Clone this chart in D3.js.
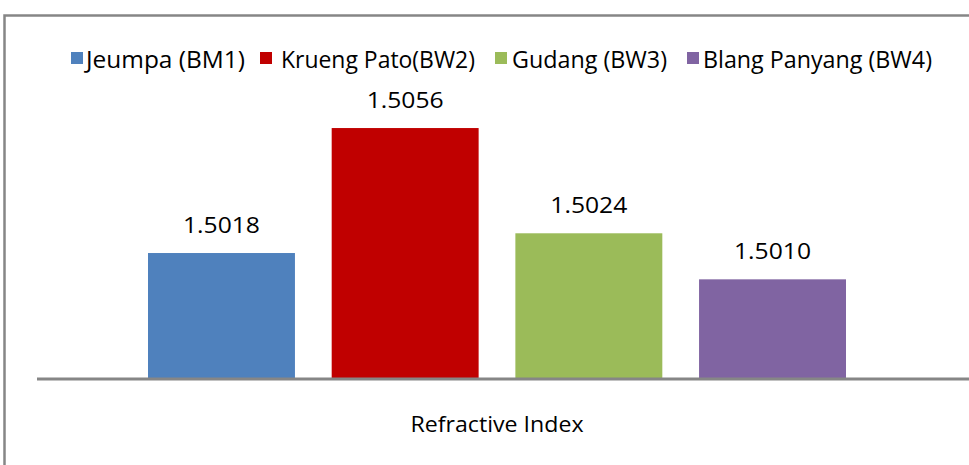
<!DOCTYPE html>
<html><head><meta charset="utf-8">
<script src="https://cdn.jsdelivr.net/npm/d3@7"></script>
<style>body{margin:0;background:#fff}svg{display:block}text{font-family:"Open Sans",sans-serif;fill:#000}</style>
</head><body>
<script>
const seriesNames = ["Jeumpa (BM1)", "Krueng Pato(BW2)", "Gudang (BW3)", "Blang Panyang (BW4)"];
const values = [1.5018, 1.5056, 1.5024, 1.5010];
const valueLabels = ["1.5018", "1.5056", "1.5024", "1.5010"];
const colors = ["#4f81bd", "#c00000", "#9bbb59", "#8064a2"];
const category = "Refractive Index";
const yDomain = [1.498, 1.507];

const W = 969, H = 465;
const svg = d3.select("body").append("svg").attr("width", W).attr("height", H);

// outer border (top and left visible)
svg.append("path").attr("d", "M4.5,470 V15.5 H969")
  .attr("fill", "none").attr("stroke", "#868686").attr("stroke-width", 2.5);

const y = d3.scaleLinear().domain(yDomain).range([378, 82]);
const x = d3.scaleBand().domain(seriesNames).range([148, 846]).paddingInner(0.2);

svg.selectAll("rect.bar").data(values).join("rect").attr("class", "bar")
  .attr("x", (d, i) => x(seriesNames[i]))
  .attr("width", x.bandwidth())
  .attr("y", d => y(d))
  .attr("height", d => y(yDomain[0]) - y(d))
  .attr("fill", (d, i) => colors[i]);

// axis baseline
svg.append("line").attr("x1", 37).attr("x2", 969).attr("y1", 379).attr("y2", 379)
  .attr("stroke", "#868686").attr("stroke-width", 3);

// value labels
svg.selectAll("text.val").data(values).join("text").attr("class", "val")
  .attr("x", (d, i) => x(seriesNames[i]) + x.bandwidth() / 2)
  .attr("y", d => y(d) - 20)
  .attr("text-anchor", "middle").attr("font-size", 21)
  .attr("textLength", 77).attr("lengthAdjust", "spacingAndGlyphs")
  .text((d, i) => valueLabels[i]);

// category label
svg.append("text").attr("x", 497).attr("y", 432).attr("text-anchor", "middle")
  .attr("font-size", 22).attr("textLength", 173).attr("lengthAdjust", "spacingAndGlyphs")
  .text(category);

// legend
const legendSq = [71, 260, 495, 687];
const legendTxt = [[86, 159], [281, 194], [512, 155], [703, 229]];
const lg = svg.append("g");
seriesNames.forEach((n, i) => {
  lg.append("rect").attr("x", legendSq[i]).attr("y", 52).attr("width", 12).attr("height", 12).attr("fill", colors[i]);
  lg.append("text").attr("x", legendTxt[i][0]).attr("y", 68).attr("font-size", 23)
    .attr("textLength", legendTxt[i][1]).attr("lengthAdjust", "spacingAndGlyphs").text(n);
});
</script>
</body></html>
